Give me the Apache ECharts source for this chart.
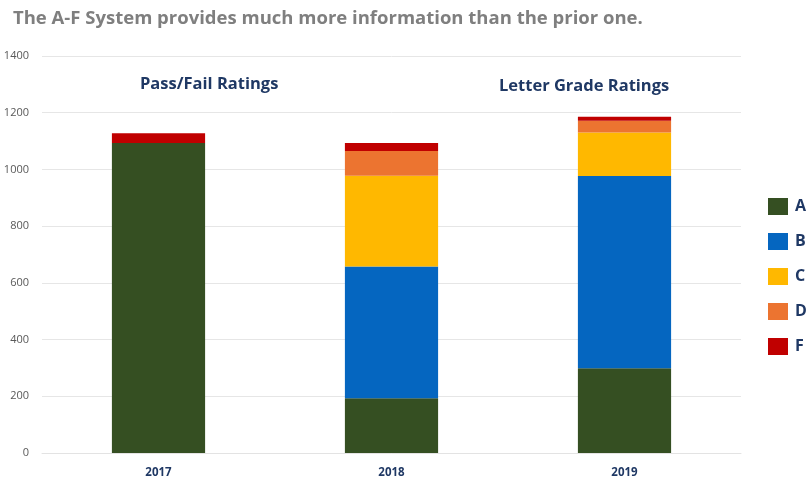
<!DOCTYPE html>
<html>
<head>
<meta charset="utf-8">
<script src="https://cdn.jsdelivr.net/npm/echarts@6/dist/echarts.min.js"></script>
<style>
  html, body { margin: 0; padding: 0; background: #fff; }
  #chart { width: 812px; height: 479px; }
</style>
</head>
<body>
<div id="chart"></div>
<script>
// data
const years = ['2017', '2018', '2019'];
const gradeA = [1093, 193, 299];
const gradeB = [0, 465, 678];
const gradeC = [0, 320, 153];
const gradeD = [0, 87, 42];
const gradeF = [35, 28, 14];

const navy = '#1f3864';
const colors = ['#354f22', '#0566c0', '#ffb800', '#ec7430', '#c00000'];

const myChart = echarts.init(document.getElementById('chart'));

const bar = (name, data, i) => ({
  name: name,
  type: 'bar',
  stack: 'total',
  barWidth: '40%',
  data: data,
  itemStyle: { color: colors[i] }
});

let option = {
  animation: false,
  textStyle: { fontFamily: 'Open Sans' },
  title: {
    text: 'The A-F System provides much more information than the prior one.',
    left: 8,
    top: 4,
    textStyle: { fontFamily: 'Open Sans', fontSize: 18.5, fontWeight: 'bold', color: '#7f7f7f' }
  },
  legend: {
    orient: 'vertical',
    left: 763,
    top: 193,
    itemWidth: 20,
    itemHeight: 17,
    itemGap: 18,
    icon: 'rect',
    textStyle: { fontSize: 16, fontWeight: 'bold', color: navy, padding: [0, 0, 0, 2] },
    data: ['A', 'B', 'C', 'D', 'F']
  },
  grid: { left: 42, right: 71, top: 56, bottom: 25 },
  xAxis: {
    type: 'category',
    data: years,
    axisLine: { lineStyle: { color: '#e3e3e3', width: 1 } },
    axisTick: { show: false },
    axisLabel: { color: navy, fontWeight: 'bold', fontSize: 11.5, margin: 14 }
  },
  yAxis: {
    type: 'value',
    min: 0,
    max: 1400,
    interval: 200,
    axisLine: { show: false },
    axisTick: { show: false },
    splitLine: { lineStyle: { color: '#e6e6e6' } },
    axisLabel: { color: '#595959', fontSize: 11, margin: 13, formatter: (v) => String(v) }
  },
  graphic: [
    {
      type: 'text', left: 140, top: 76,
      style: { text: 'Pass/Fail Ratings', fill: navy, font: 'bold 16.5px "Open Sans"' }
    },
    {
      type: 'text', left: 499, top: 78,
      style: { text: 'Letter Grade Ratings', fill: navy, font: 'bold 16.5px "Open Sans"' }
    }
  ],
  series: [
    bar('A', gradeA, 0),
    bar('B', gradeB, 1),
    bar('C', gradeC, 2),
    bar('D', gradeD, 3),
    bar('F', gradeF, 4)
  ]
};
myChart.setOption(option);
</script>
</body>
</html>
